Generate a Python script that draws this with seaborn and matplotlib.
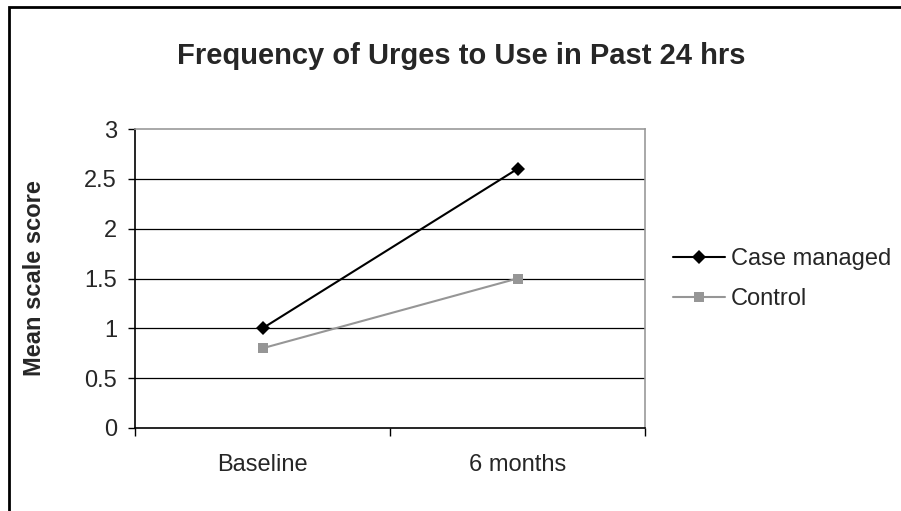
import matplotlib
matplotlib.use("Agg")
import matplotlib.pyplot as plt
import seaborn as sns
import pandas as pd
from matplotlib.patches import Rectangle
from matplotlib.lines import Line2D

sns.set_theme(style="white")
plt.rcParams['font.family'] = ['Liberation Sans', 'DejaVu Sans']

timepoints = ["Baseline", "6 months"]
case_managed = [1.0, 2.6]
control = [0.8, 1.5]
y_ticks = [0, 0.5, 1, 1.5, 2, 2.5, 3]
y_tick_labels = ["0", "0.5", "1", "1.5", "2", "2.5", "3"]

df = pd.DataFrame({
    "x": list(range(len(timepoints))) * 2,
    "score": case_managed + control,
    "group": ["Case managed"] * len(timepoints) + ["Control"] * len(timepoints),
})

fig = plt.figure(figsize=(9.01, 5.11), dpi=100)
W, H = 901, 511
ax = fig.add_axes([135 / W, 1 - 428 / H, 510 / W, 299 / H])

sns.lineplot(data=df, x="x", y="score", hue="group", style="group",
             palette={"Case managed": "#000000", "Control": "#969696"},
             markers={"Case managed": "D", "Control": "s"}, dashes=False,
             markersize=7.5, linewidth=1.5, markeredgewidth=0, ax=ax, legend=False)

ax.set_xlim(-0.5, 1.5)
ax.set_ylim(0, 3)
ax.set_yticks(y_ticks)
ax.set_yticklabels(y_tick_labels)
ax.set_xticks([-0.5, 0.5, 1.5])
ax.set_xticklabels([])
for i, lab in enumerate(timepoints):
    ax.text(i, -0.26, lab, ha="center", va="top", fontsize=17, transform=ax.transData)
ax.set_xlabel("")
ax.set_ylabel("Mean scale score", fontsize=17, fontweight="bold")
ax.yaxis.set_label_coords((46 - 135) / 510, 0.5)
ax.tick_params(axis="y", which="both", left=True, length=5, width=1, color="black",
               labelsize=17, pad=8, direction="out")
ax.tick_params(axis="x", which="both", bottom=True, length=6, width=1, color="black",
               direction="out")
for yv in y_ticks[1:-1]:
    ax.axhline(yv, color="black", linewidth=0.9, zorder=0)
ax.spines["left"].set_color("black")
ax.spines["bottom"].set_color("black")
ax.spines["top"].set_color("#999999")
ax.spines["right"].set_color("#999999")
for s in ax.spines.values():
    s.set_linewidth(1.2)

fig.text(461 / W, 1 - 56 / H, "Frequency of Urges to Use in Past 24 hrs",
         ha="center", va="center", fontsize=21, fontweight="bold")

handles = [
    Line2D([], [], color="black", marker="D", markersize=7.5, markeredgewidth=0, linewidth=1.5),
    Line2D([], [], color="#969696", marker="s", markersize=7.5, markeredgewidth=0, linewidth=1.5),
]
fig.legend(handles, ["Case managed", "Control"], loc="center left",
           bbox_to_anchor=(673 / W, 1 - 279 / H), frameon=False, fontsize=17,
           handlelength=2.2, handletextpad=0.25, labelspacing=0.75, borderaxespad=0,
           borderpad=0)

fig.patches.append(Rectangle((8.5 / W, -0.1), 1.2, 1 - 6.5 / H + 0.1,
                             transform=fig.transFigure, fill=False,
                             edgecolor="black", linewidth=2, figure=fig))

fig.savefig("out.png", dpi=100)
